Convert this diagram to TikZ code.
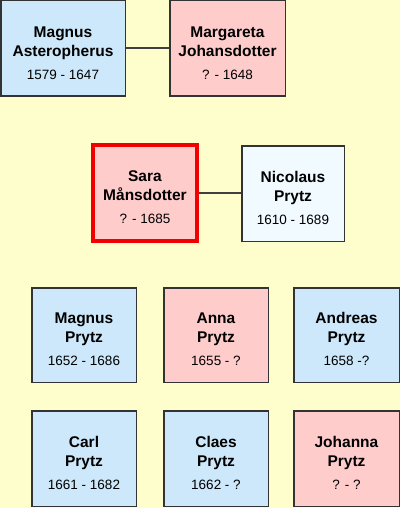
\documentclass[tikz,border=0pt]{standalone}
\usepackage{fontspec}
\setmainfont{Liberation Sans}
\definecolor{bgyellow}{RGB}{254,254,204}
\definecolor{mblue}{RGB}{204,232,250}
\definecolor{fpink}{RGB}{255,204,204}
\definecolor{paleblue}{RGB}{240,250,255}
\definecolor{edgegray}{RGB}{51,51,51}
\definecolor{linkgray}{RGB}{64,64,64}
\definecolor{selred}{RGB}{240,0,0}
\newcommand\personlabel[3]{\rule{0pt}{20pt}\textbf{#1}\\\textbf{#2}\\[4pt]{\fontsize{13.5}{19}\selectfont #3}}
\tikzset{
  person/.style={draw=edgegray, line width=1.5pt, align=center, inner sep=0pt,
    font=\fontsize{15.5}{19}\selectfont, text=black},
  male/.style={person, fill=mblue},
  female/.style={person, fill=fpink},
  link/.style={draw=linkgray, line width=2pt}
}
\begin{document}
\begin{tikzpicture}[x=1pt,y=-1pt]
\useasboundingbox (0,0) rectangle (400,508);
\fill[bgyellow] (0,0) rectangle (400,508);
% generation 1
\node[male, minimum width=124.5pt, minimum height=95.5pt] (ma) at (63,48.5)
  {\personlabel{Magnus}{Asteropherus}{1579 - 1647}};
\node[female, minimum width=115.5pt, minimum height=95.5pt] (mj) at (227.5,48.5)
  {\personlabel{Margareta}{Johansdotter}{? - 1648}};
% generation 2
\node[female, draw=selred, line width=4pt, minimum width=104pt, minimum height=96pt] (sm) at (145,193)
  {\personlabel{Sara}{Månsdotter}{? - 1685}};
\node[person, fill=paleblue, minimum width=102.5pt, minimum height=95.5pt] (np) at (293,193.5)
  {\personlabel{Nicolaus}{Prytz}{1610 - 1689}};
% generation 3
\node[male, minimum width=104.5pt, minimum height=94.5pt] (c1) at (84,335)
  {\personlabel{Magnus}{Prytz}{1652 - 1686}};
\node[female, minimum width=104.5pt, minimum height=94.5pt] (c2) at (216,335)
  {\personlabel{Anna}{Prytz}{1655 - ?}};
\node[male, minimum width=105.5pt, minimum height=94.5pt] (c3) at (346.5,335)
  {\personlabel{Andreas}{Prytz}{1658 -?}};
\node[male, minimum width=104.5pt, minimum height=95.5pt] (c4) at (84,458.5)
  {\personlabel{Carl}{Prytz}{1661 - 1682}};
\node[male, minimum width=104.5pt, minimum height=95.5pt] (c5) at (216,458.5)
  {\personlabel{Claes}{Prytz}{1662 - ?}};
\node[female, minimum width=105.5pt, minimum height=95.5pt] (c6) at (346.5,458.5)
  {\personlabel{Johanna}{Prytz}{? - ?}};
% connectors
\draw[link] (ma.east) -- (mj.west);
\draw[link] (sm.east) -- (sm.east -| np.west);
\end{tikzpicture}
\end{document}
